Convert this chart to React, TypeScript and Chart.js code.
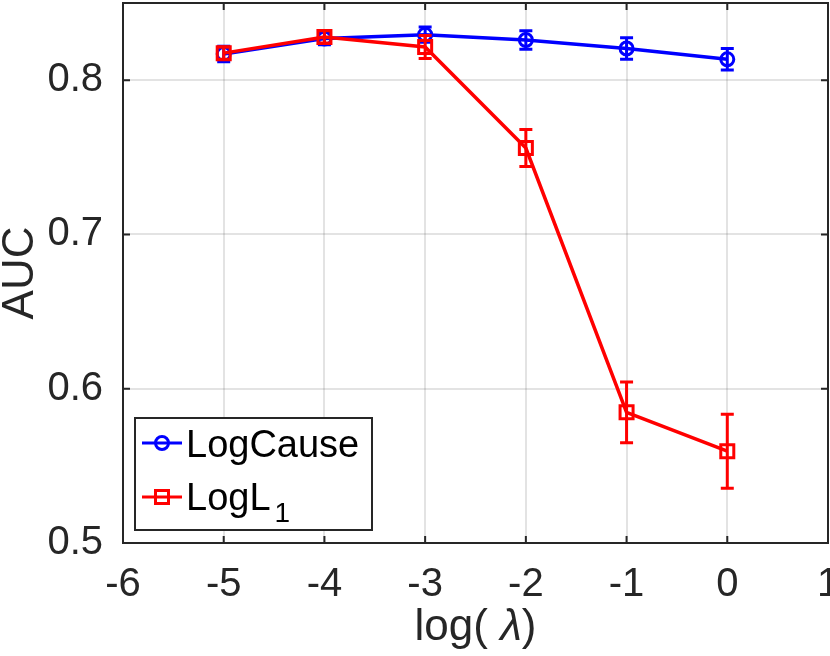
import { useEffect, useRef } from 'react'
import { Chart, registerables } from 'chart.js'
import type { ChartConfiguration, Plugin } from 'chart.js'

Chart.register(...registerables)

const xTicks = [-6, -5, -4, -3, -2, -1, 0, 1]
const yTicks = [0.5, 0.6, 0.7, 0.8]
const logLambda = [-5, -4, -3, -2, -1, 0]

const logCauseAuc = [0.817, 0.827, 0.8295, 0.826, 0.8205, 0.8135]
const logCauseErr = [0.005, 0.004, 0.005, 0.006, 0.007, 0.007]
const logL1Auc = [0.8175, 0.828, 0.8215, 0.756, 0.5847, 0.5595]
const logL1Err = [0.004, 0.004, 0.0075, 0.012, 0.0197, 0.024]

const FONT = '"Liberation Sans", Arial, Helvetica, sans-serif'
const AXIS_COLOR = '#262626'
const BLUE = '#0000ff'
const RED = '#ff0000'

const errorSets = [logCauseErr, logL1Err]

const errorBars: Plugin<'line'> = {
  id: 'errorBars',
  afterDatasetDraw(chart, args) {
    const errs = errorSets[args.index]
    if (!errs) return
    const ds = chart.data.datasets[args.index]
    const ctx = chart.ctx
    const xs = chart.scales.x
    const ys = chart.scales.y
    ctx.save()
    ctx.strokeStyle = ds.borderColor as string
    ctx.lineWidth = 3
    ctx.lineCap = 'butt'
    logLambda.forEach((lx, i) => {
      const v = (ds.data[i] as { x: number; y: number }).y
      const px = xs.getPixelForValue(lx)
      const top = ys.getPixelForValue(v + errs[i])
      const bot = ys.getPixelForValue(v - errs[i])
      ctx.beginPath()
      ctx.moveTo(px, top)
      ctx.lineTo(px, bot)
      ctx.moveTo(px - 6.5, top)
      ctx.lineTo(px + 6.5, top)
      ctx.moveTo(px - 6.5, bot)
      ctx.lineTo(px + 6.5, bot)
      ctx.stroke()
    })
    ctx.restore()
  },
}

const frame: Plugin<'line'> = {
  id: 'frame',
  afterDraw(chart) {
    const ctx = chart.ctx
    const { left, right, top, bottom } = chart.chartArea
    const xs = chart.scales.x
    const ys = chart.scales.y
    ctx.save()

    // box + inward ticks on all four sides
    ctx.strokeStyle = AXIS_COLOR
    ctx.lineWidth = 2
    ctx.strokeRect(left, top, right - left, bottom - top)
    ctx.beginPath()
    const tl = 7
    xTicks.forEach((t) => {
      const px = xs.getPixelForValue(t)
      ctx.moveTo(px, bottom)
      ctx.lineTo(px, bottom - tl)
      ctx.moveTo(px, top)
      ctx.lineTo(px, top + tl)
    })
    yTicks.forEach((t) => {
      const py = ys.getPixelForValue(t)
      ctx.moveTo(left, py)
      ctx.lineTo(left + tl, py)
      ctx.moveTo(right, py)
      ctx.lineTo(right - tl, py)
    })
    ctx.stroke()

    // axis titles
    ctx.fillStyle = AXIS_COLOR
    ctx.textBaseline = 'alphabetic'
    ctx.font = `44px ${FONT}`
    const p1 = 'log( '
    const p3 = ')'
    const w1 = ctx.measureText(p1).width
    const w3 = ctx.measureText(p3).width
    ctx.font = `italic 44px ${FONT}`
    const w2 = ctx.measureText('λ').width
    let tx = (left + right) / 2 - (w1 + w2 + w3) / 2
    ctx.font = `44px ${FONT}`
    ctx.textAlign = 'left'
    ctx.fillText(p1, tx, 640)
    tx += w1
    ctx.font = `italic 44px ${FONT}`
    ctx.fillText('λ', tx, 640)
    tx += w2
    ctx.font = `44px ${FONT}`
    ctx.fillText(p3, tx, 640)

    ctx.save()
    ctx.translate(33, (top + bottom) / 2)
    ctx.rotate(-Math.PI / 2)
    ctx.textAlign = 'center'
    ctx.fillText('AUC', 0, 0)
    ctx.restore()

    // legend
    const bx = 135
    const by = 418
    ctx.fillStyle = '#ffffff'
    ctx.fillRect(bx, by, 237, 112)
    ctx.strokeStyle = AXIS_COLOR
    ctx.lineWidth = 2
    ctx.strokeRect(bx, by, 237, 112)

    const rows = [
      { y: 443, color: BLUE, marker: 'circle' },
      { y: 497, color: RED, marker: 'rect' },
    ]
    rows.forEach((r) => {
      ctx.strokeStyle = r.color
      ctx.lineWidth = 3
      ctx.beginPath()
      ctx.moveTo(142, r.y)
      ctx.lineTo(182, r.y)
      ctx.stroke()
      ctx.beginPath()
      if (r.marker === 'circle') {
        ctx.arc(162, r.y, 6.5, 0, Math.PI * 2)
      } else {
        ctx.rect(162 - 6.5, r.y - 6.5, 13, 13)
      }
      ctx.stroke()
    })
    ctx.fillStyle = '#000000'
    ctx.textAlign = 'left'
    ctx.font = `38px ${FONT}`
    ctx.fillText('LogCause', 186, 457)
    ctx.fillText('LogL', 186, 510)
    const wl = ctx.measureText('LogL').width
    ctx.font = `28px ${FONT}`
    ctx.fillText('1', 186 + wl + 4, 522)

    ctx.restore()
  },
}

export default function App() {
  const canvasRef = useRef<HTMLCanvasElement>(null)

  useEffect(() => {
    if (!canvasRef.current) return
    const config: ChartConfiguration<'line'> = {
      type: 'line',
      data: {
        datasets: [
          {
            label: 'LogCause',
            data: logLambda.map((x, i) => ({ x, y: logCauseAuc[i] })),
            borderColor: BLUE,
            backgroundColor: 'rgba(0,0,0,0)',
            borderWidth: 3.5,
            pointStyle: 'circle',
            pointRadius: 6.5,
            pointBorderWidth: 3,
            pointBorderColor: BLUE,
            pointBackgroundColor: 'rgba(0,0,0,0)',
            tension: 0,
            order: 1,
          },
          {
            label: 'LogL1',
            data: logLambda.map((x, i) => ({ x, y: logL1Auc[i] })),
            borderColor: RED,
            backgroundColor: 'rgba(0,0,0,0)',
            borderWidth: 3.5,
            pointStyle: 'rect',
            pointRadius: 9.2,
            pointBorderWidth: 3,
            pointBorderColor: RED,
            pointBackgroundColor: 'rgba(0,0,0,0)',
            tension: 0,
            order: 0,
          },
        ],
      },
      options: {
        responsive: false,
        animation: false,
        layout: { autoPadding: false, padding: { top: 3, right: 2, left: 0, bottom: 0 } },
        plugins: {
          legend: { display: false },
          tooltip: { enabled: false },
        },
        scales: {
          x: {
            type: 'linear',
            min: -6,
            max: 1,
            afterBuildTicks: (scale) => {
              scale.ticks = xTicks.map((value) => ({ value }))
            },
            afterFit: (scale) => {
              scale.height = 113
              scale.paddingLeft = 0
              scale.paddingRight = 0
              scale.paddingTop = 0
              scale.paddingBottom = 0
            },
            ticks: {
              padding: 18,
              color: AXIS_COLOR,
              font: { family: FONT, size: 40 },
              callback: (v) => String(v),
            },
            grid: { color: 'rgba(38,38,38,0.13)', lineWidth: 2, drawTicks: false },
            border: { display: false },
          },
          y: {
            type: 'linear',
            min: 0.5,
            max: 0.85,
            afterBuildTicks: (scale) => {
              scale.ticks = yTicks.map((value) => ({ value }))
            },
            afterFit: (scale) => {
              scale.width = 123
              scale.paddingLeft = 0
              scale.paddingRight = 0
              scale.paddingTop = 0
              scale.paddingBottom = 0
            },
            ticks: {
              padding: 20,
              color: AXIS_COLOR,
              font: { family: FONT, size: 40 },
              callback: (v) => String(v),
            },
            grid: { color: 'rgba(38,38,38,0.13)', lineWidth: 2, drawTicks: false },
            border: { display: false },
          },
        },
      },
      plugins: [errorBars, frame],
    }
    const chart = new Chart(canvasRef.current, config)
    return () => chart.destroy()
  }, [])

  return (
    <div style={{ position: 'fixed', left: 0, top: 0, width: 830, height: 656, background: '#fff' }}>
      <canvas ref={canvasRef} width={830} height={656} style={{ width: 830, height: 656 }} />
    </div>
  )
}
